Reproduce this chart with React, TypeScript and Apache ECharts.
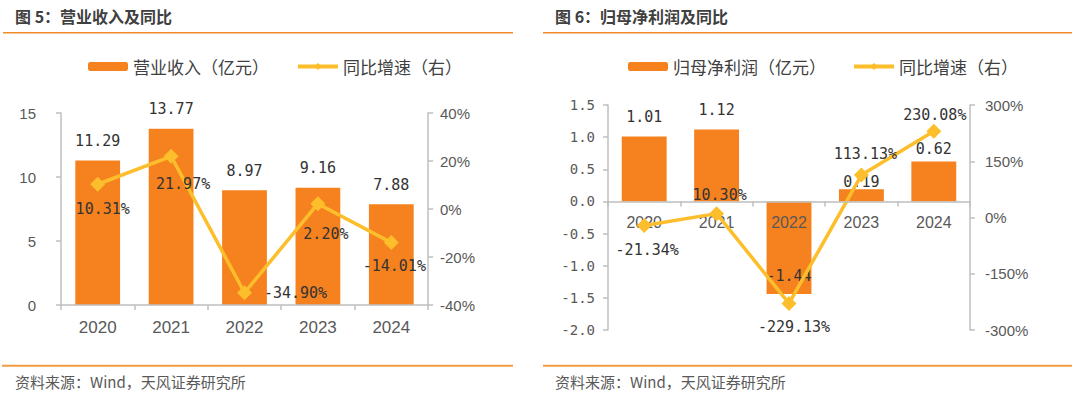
import React, { useEffect, useRef } from "react";
import * as echarts from "echarts";

// ---------- data ----------
const years = ["2020", "2021", "2022", "2023", "2024"];
const revenue = [11.29, 13.77, 8.97, 9.16, 7.88];
const revenueGrowth = [10.31, 21.97, -34.9, 2.2, -14.01];
const netProfit = [1.01, 1.12, -1.44, 0.19, 0.62];
const profitGrowth = [-21.34, 10.3, -229.13, 113.13, 230.08];

const leftTitle = "图 5：营业收入及同比";
const rightTitle = "图 6：归母净利润及同比";
const revenueName = "营业收入（亿元）";
const profitName = "归母净利润（亿元）";
const growthName = "同比增速（右）";
const sourceText = "资料来源：Wind，天风证券研究所";

// ---------- style ----------
const BAR = "#F5821F";
const LINE = "#FDBE2C";
const AXIS = "#BFBFBF";
const TXT = "#595959";
const LBL = "#333333";
const MONO = "DejaVu Sans Mono";
const SANS = "Liberation Sans";
const CJK = "Noto Sans CJK SC";

// label offsets (relative to point) for line labels
const revGrowthOffsets = [[5, 25], [12, 28], [51, 0], [8, 30], [3, 23]];
const profGrowthOffsets = [[3, 24], [3, -19], [5, 24], [4, -21], [1, -16]];

const fmtPct = (v: number) => v.toFixed(2) + "%";
const fmt2 = (v: number) => v.toFixed(2);

export default function App() {
  const ref = useRef<HTMLDivElement>(null);
  useEffect(() => {
    if (!ref.current) return;
    const chart = echarts.init(ref.current, null, { renderer: "svg" });

    const dataLabel = {
      fontFamily: MONO,
      fontSize: 15,
      color: LBL,
    };

    const xAxisCommon = (grid: number, fs: number, margin: number, onZeroIdx: number, showLabel: boolean) => ({
      type: "category",
      gridIndex: grid,
      data: years,
      z: 10,
      axisLine: { show: true, onZero: true, onZeroAxisIndex: onZeroIdx, lineStyle: { color: AXIS, width: 1.5 } },
      axisTick: { show: true, length: 5, lineStyle: { color: AXIS, width: 1.5 } },
      axisLabel: { show: showLabel, color: TXT, fontSize: fs, fontFamily: SANS, margin },
    });

    const yAxisCommon = (grid: number, pos: string, min: number, max: number, interval: number, fmt: any, margin: number, font: string, fs: number) => ({
      type: "value",
      gridIndex: grid,
      position: pos,
      min,
      max,
      interval,
      splitLine: { show: false },
      axisLine: { show: true, lineStyle: { color: AXIS, width: 1.5 } },
      axisTick: { show: true, length: 5, lineStyle: { color: AXIS, width: 1.5 } },
      axisLabel: { color: TXT, fontSize: fs, fontFamily: font, margin, formatter: fmt },
    });

    const legendCommon = {
      orient: "horizontal",
      itemWidth: 40,
      itemHeight: 9,
      lineStyle: { width: 4 },
      textStyle: { color: "#404040", fontSize: 17, fontFamily: CJK },
    };

    const option: any = {
      animation: false,
      backgroundColor: "#ffffff",
      grid: [
        { left: 61, top: 113, width: 367, height: 192, containLabel: false },
        { left: 608, top: 105, width: 362, height: 225, containLabel: false },
      ],
      legend: [
        { ...legendCommon, left: 83, top: 53, itemGap: 27, data: [revenueName, { name: growthName }] },
        { ...legendCommon, left: 623, top: 53, itemGap: 26, data: [profitName, { name: growthName }] },
      ],
      xAxis: [xAxisCommon(0, 17, 14, 0, true), xAxisCommon(1, 16, 12, 2, false)],
      yAxis: [
        yAxisCommon(0, "left", 0, 15, 5, (v: number) => String(v), 25, SANS, 15),
        yAxisCommon(0, "right", -40, 40, 20, (v: number) => v + "%", 12, SANS, 15),
        yAxisCommon(1, "left", -2, 1.5, 0.5, (v: number) => v.toFixed(1), 13, MONO, 14),
        yAxisCommon(1, "right", -300, 300, 150, (v: number) => v + "%", 15, SANS, 15),
      ],
      series: [
        {
          name: revenueName,
          type: "bar",
          xAxisIndex: 0,
          yAxisIndex: 0,
          barWidth: "61%",
          itemStyle: { color: BAR },
          label: { show: true, position: "top", distance: 12, formatter: (p: any) => fmt2(p.value), ...dataLabel },
          data: revenue,
        },
        {
          name: growthName,
          type: "line",
          xAxisIndex: 0,
          yAxisIndex: 1,
          symbol: "diamond",
          symbolSize: 15,
          lineStyle: { color: LINE, width: 3.5 },
          itemStyle: { color: LINE },
          z: 5,
          data: revenueGrowth.map((v, i) => ({
            value: v,
            label: { show: true, position: "inside", offset: revGrowthOffsets[i], formatter: fmtPct(v), ...dataLabel },
          })),
        },
        {
          name: profitName,
          type: "bar",
          xAxisIndex: 1,
          yAxisIndex: 2,
          barWidth: "62%",
          itemStyle: { color: BAR },
          data: netProfit.map((v, i) => {
            let lab: any = { show: true, position: "top", distance: 12 };
            if (v < 0) lab = { show: true, position: "inside", offset: [0, 28] };
            else if (i === 3) lab = { show: true, position: "top", distance: 0 };
            else if (i === 4) lab = { show: true, position: "top", distance: 5 };
            return { value: v, label: { ...lab, formatter: fmt2(v), ...dataLabel } };
          }),
        },
        {
          // category labels of the right chart, drawn at the zero line
          name: "xlabels",
          type: "custom",
          xAxisIndex: 1,
          yAxisIndex: 2,
          z: 3,
          silent: true,
          data: years.map((y, i) => [i, 0]),
          renderItem: (params: any, api: any) => {
            const p = api.coord([api.value(0), 0]);
            return {
              type: "text",
              x: p[0],
              y: p[1] + 13,
              style: {
                text: years[params.dataIndex],
                fill: TXT,
                font: `16px "${SANS}"`,
                align: "center",
                verticalAlign: "top",
              },
            };
          },
        },
        {
          name: growthName,
          type: "line",
          xAxisIndex: 1,
          yAxisIndex: 3,
          symbol: "diamond",
          symbolSize: 15,
          lineStyle: { color: LINE, width: 3.5 },
          itemStyle: { color: LINE },
          z: 5,
          data: profitGrowth.map((v, i) => ({
            value: v,
            label: { show: true, position: "inside", offset: profGrowthOffsets[i], formatter: fmtPct(v), ...dataLabel },
          })),
        },
      ],
      graphic: [
        { type: "text", left: 15, top: 8, style: { text: leftTitle, fill: "#404040", font: `bold 16px "${CJK}"` } },
        { type: "text", left: 555, top: 8, style: { text: rightTitle, fill: "#404040", font: `bold 16px "${CJK}"` } },
        { type: "line", shape: { x1: 3, y1: 32.7, x2: 513, y2: 32.7 }, style: { stroke: "#F08A2A", lineWidth: 1.5 } },
        { type: "line", shape: { x1: 543, y1: 32.7, x2: 1072, y2: 32.7 }, style: { stroke: "#F08A2A", lineWidth: 1.5 } },
        { type: "line", shape: { x1: 2, y1: 365.7, x2: 513, y2: 365.7 }, style: { stroke: "#F59A45", lineWidth: 2 } },
        { type: "line", shape: { x1: 543, y1: 365.7, x2: 1072, y2: 365.7 }, style: { stroke: "#F59A45", lineWidth: 2 } },
        { type: "text", left: 15, top: 374, style: { text: sourceText, fill: TXT, font: `15px "${CJK}"` } },
        { type: "text", left: 555, top: 374, style: { text: sourceText, fill: TXT, font: `15px "${CJK}"` } },
      ],
    };

    chart.setOption(option);
    return () => chart.dispose();
  }, []);

  return (
    <div
      ref={ref}
      style={{ position: "fixed", left: 0, top: 0, width: 1080, height: 398, background: "#fff" }}
    />
  );
}
